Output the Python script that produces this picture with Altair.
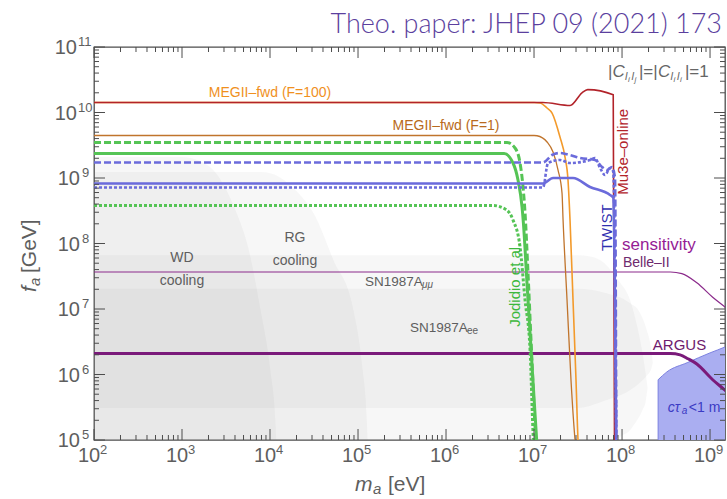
import altair as alt
import numpy as np
import pandas as pd

W, H = 631, 393
X_MIN, X_MAX = 1e2, 10 ** 9.17
Y_MIN, Y_MAX = 1e5, 1e11
FONT = "Liberation Sans"
GRAY_TXT = "#5e5e5e"

# ---------------------------------------------------------------
# Curves, given as log10(m_a / eV) and log10(f_a / GeV)
# ---------------------------------------------------------------
mu3e_lx = [2.0, 7.1, 7.41, 7.545, 7.61, 7.90, 7.915]
mu3e_ly = [10.153, 10.153, 10.107, 10.30, 10.35, 10.27, 4.8]

megii100_lx = [2.0, 7.0, 7.068, 7.148, 7.205, 7.295, 7.352, 7.386, 7.409, 7.443, 7.477, 7.5, 7.51]
megii100_ly = [10.153, 10.153, 10.145, 10.069, 9.992, 9.626, 9.32, 8.97, 8.359, 7.137, 5.916, 5.0, 4.8]

megii1_lx = [2.0, 7.0, 7.034, 7.148, 7.216, 7.273, 7.318, 7.33, 7.375, 7.42, 7.466, 7.48]
megii1_ly = [9.649, 9.649, 9.645, 9.55, 9.397, 9.122, 8.771, 8.359, 7.137, 5.916, 5.0, 4.8]

jod_dash_lx = [2.0, 6.693, 6.784, 6.841, 6.875, 6.898, 6.93, 6.97, 7.02, 7.03]
jod_dash_ly = [9.542, 9.542, 9.458, 9.229, 8.863, 8.466, 7.6, 6.4, 5.0, 4.8]

jod_solid_lx = [2.0, 6.659, 6.761, 6.818, 6.864, 6.88, 6.92, 6.97, 7.03, 7.04]
jod_solid_ly = [9.374, 9.374, 9.229, 8.969, 8.557, 8.3, 7.4, 6.3, 5.0, 4.8]

jod_dot_lx = [2.0, 6.534, 6.68, 6.761, 6.841, 6.898, 6.955, 6.989, 7.0]
jod_dot_ly = [8.58, 8.58, 8.52, 8.36, 7.95, 7.137, 6.374, 5.107, 4.8]

twist_dash_lx = [2.0, 7.102, 7.205, 7.295, 7.409, 7.523, 7.693, 7.773, 7.83, 7.886, 7.92, 7.935]
twist_dash_ly = [9.237, 9.237, 9.351, 9.382, 9.351, 9.305, 9.275, 9.168, 9.122, 9.168, 9.0, 4.8]

twist_dot_lx = [2.0, 7.102, 7.159, 7.295, 7.409, 7.636, 7.693, 7.75, 7.807, 7.864, 7.9, 7.935]
twist_dot_ly = [8.855, 8.855, 9.229, 9.275, 9.229, 9.275, 9.305, 9.153, 9.046, 9.153, 9.1, 4.8]

twist_solid_lx = [2.0, 7.102, 7.216, 7.443, 7.636, 7.864, 7.9, 7.935]
twist_solid_ly = [8.916, 8.916, 9.0, 9.0, 8.863, 8.74, 8.7, 4.8]

belle_lx = [2.0, 8.55, 8.68, 8.85, 9.03, 9.17, 9.3]
belle_ly = [7.565, 7.565, 7.54, 7.40, 7.18, 7.03, 6.88]

argus_lx = [2.0, 8.55, 8.66, 8.75, 8.85, 9.03, 9.17, 9.3]
argus_ly = [6.32, 6.32, 6.30, 6.24, 6.16, 5.92, 5.76, 5.6]

# ---------------------------------------------------------------
# Excluded regions (upper and lower edges)
# ---------------------------------------------------------------
wd_lx = [2.0, 3.0, 3.2, 3.4, 3.51, 3.625, 3.75, 3.886, 4.0, 4.06, 4.1]
wd_top = [9.32, 9.32, 9.26, 9.05, 8.80, 8.45, 7.95, 7.03, 6.1, 5.3, 4.0]

rg_lx = [2.0, 3.9, 4.1, 4.3, 4.5, 4.72, 4.94, 5.05, 5.1, 5.13]
rg_top = [9.09, 9.09, 9.02, 8.8, 8.45, 7.75, 7.03, 6.1, 5.3, 4.0]

snmu_lx = [2.0, 7.5, 7.64, 7.8, 7.95, 8.09, 8.17, 8.23, 8.27, 8.29]
snmu_top = [7.82, 7.82, 7.80, 7.70, 7.45, 7.14, 6.75, 6.35, 6.0, 5.8]
snmu_bot = [4.0, 4.0, 4.0, 4.4, 5.0, 5.15, 5.3, 5.45, 5.6, 5.8]

snee_lx = [2.0, 7.5, 7.8, 8.09, 8.2, 8.28, 8.33, 8.35]
snee_top = [7.31, 7.31, 7.25, 7.09, 6.95, 6.68, 6.4, 6.18]
snee_bot = [5.49, 5.49, 5.6, 5.76, 5.87, 5.98, 6.08, 6.18]

ctau_lx = [8.41, 8.51, 8.74, 9.0, 9.17, 9.3]
ctau_top = [5.92, 6.04, 6.18, 6.33, 6.42, 6.5]

# ---------------------------------------------------------------
# Frame ticks and labels
# ---------------------------------------------------------------
x_exponents = [2, 3, 4, 5, 6, 7, 8, 9]
y_exponents = [5, 6, 7, 8, 9, 10, 11]
minor_mult = [2, 3, 4, 5, 6, 7, 8, 9]

xs = alt.Scale(type="log", domain=[X_MIN, X_MAX], nice=False)
ys = alt.Scale(type="log", domain=[Y_MIN, Y_MAX], nice=False)


def X(field="ma"):
    return alt.X(f"{field}:Q", scale=xs, axis=None)


def Y(field="fa"):
    return alt.Y(f"{field}:Q", scale=ys, axis=None)


def curve(lx, ly, color, width, dash=None, interp="monotone", opacity=1.0):
    df = pd.DataFrame({"ma": 10 ** np.array(lx), "fa": 10 ** np.array(ly)})
    kw = dict(color=color, strokeWidth=width, clip=True, interpolate=interp,
              opacity=opacity)
    if dash:
        kw["strokeDash"] = dash
    return alt.Chart(df).mark_line(**kw).encode(x=X(), y=Y())


def region(lx, top, bot, color, opacity, stroke=None):
    if np.isscalar(bot):
        bot = [bot] * len(lx)
    df = pd.DataFrame({"ma": 10 ** np.array(lx),
                       "top": 10 ** np.array(top),
                       "bot": 10 ** np.array(bot)})
    kw = dict(color=color, opacity=opacity, clip=True, interpolate="monotone")
    if stroke:
        kw.update(stroke=stroke, strokeWidth=1, strokeOpacity=1)
    return alt.Chart(df).mark_area(**kw).encode(x=X(), y=Y("top"), y2="bot:Q")


def note(text, lx, ly, color, size, align="left", baseline="middle", angle=0,
         dx=0, dy=0, style="normal", font=FONT, weight="normal"):
    df = pd.DataFrame({"ma": [10 ** lx], "fa": [10 ** ly], "t": [text]})
    return alt.Chart(df).mark_text(
        align=align, baseline=baseline, angle=angle, dx=dx, dy=dy,
        fontSize=size, color=color, font=font, fontStyle=style,
        fontWeight=weight).encode(x=X(), y=Y(), text="t:N")


def rich(pieces, lx, ly, color, angle=0):
    # pieces: (text, dx, dy, size, style)
    return [note(t, lx, ly, color, s, dx=dx, dy=dy, style=st, angle=angle)
            for t, dx, dy, s, st in pieces]


def pix_text(text, px, py, color, size, align="left", angle=0, style="normal",
             font=FONT, weight="normal", dx=0, dy=0):
    df = pd.DataFrame({"t": [text]})
    return alt.Chart(df).mark_text(
        align=align, baseline="middle", angle=angle, fontSize=size, color=color,
        font=font, fontStyle=style, fontWeight=weight, dx=dx, dy=dy).encode(
        x=alt.value(px), y=alt.value(py), text="t:N")


def frame_ticks(vals, axis, length):
    df = pd.DataFrame({"v": vals})
    tk = dict(color="#4d4d4d", strokeWidth=1)
    if axis == "x":
        return [
            alt.Chart(df).mark_rule(**tk).encode(x=X("v"), y=alt.value(H), y2=alt.value(H - length)),
            alt.Chart(df).mark_rule(**tk).encode(x=X("v"), y=alt.value(0), y2=alt.value(length)),
        ]
    return [
        alt.Chart(df).mark_rule(**tk).encode(y=Y("v"), x=alt.value(0), x2=alt.value(length)),
        alt.Chart(df).mark_rule(**tk).encode(y=Y("v"), x=alt.value(W), x2=alt.value(W - length)),
    ]


layers = []

# excluded regions
REG = "#8c8c8c"
REG_OP = 0.065
layers.append(region(wd_lx, wd_top, 4.0, REG, REG_OP))
layers.append(region(rg_lx, rg_top, 4.0, REG, REG_OP))
layers.append(region(snmu_lx, snmu_top, snmu_bot, REG, REG_OP))
layers.append(region(snee_lx, snee_top, snee_bot, REG, REG_OP))
layers.append(region(ctau_lx, ctau_top, 4.0, "#aaaef1", 1.0, stroke="#7b80e0"))

# collider limits
layers.append(curve(belle_lx, belle_ly, "#8b2a8b", 1.2))
layers.append(curve(argus_lx, argus_ly, "#7a1a7a", 3.0))

# Jodidio et al.
GREEN = "#55c455"
layers.append(curve(jod_dot_lx, jod_dot_ly, GREEN, 3.0, dash=[3, 2]))
layers.append(curve(jod_dash_lx, jod_dash_ly, GREEN, 3.0, dash=[7, 3]))
layers.append(curve(jod_solid_lx, jod_solid_ly, GREEN, 3.0))

# MEGII-fwd
layers.append(curve(megii100_lx, megii100_ly, "#f39a2b", 1.6))
layers.append(curve(megii1_lx, megii1_ly, "#c0742c", 1.3))

# Mu3e-online
layers.append(curve(mu3e_lx, mu3e_ly, "#b2232a", 1.6))

# TWIST
BLUE = "#6b6bdb"
layers.append(curve(twist_dash_lx, twist_dash_ly, BLUE, 2.6, dash=[7, 3]))
layers.append(curve(twist_dot_lx, twist_dot_ly, BLUE, 2.6, dash=[3, 2]))
layers.append(curve(twist_solid_lx, twist_solid_ly, BLUE, 2.6))

# frame ticks
x_major = [10.0 ** e for e in x_exponents]
x_minor = [m * 10.0 ** e for e in x_exponents for m in minor_mult if m * 10.0 ** e <= X_MAX]
y_major = [10.0 ** e for e in y_exponents]
y_minor = [m * 10.0 ** e for e in y_exponents[:-1] for m in minor_mult]
layers += frame_ticks(x_major, "x", 11)
layers += frame_ticks(x_minor, "x", 5)
layers += frame_ticks(y_major, "y", 11)
layers += frame_ticks(y_minor, "y", 5)

# tick labels: base "10" plus raised exponent
xl = pd.DataFrame({"v": x_major, "b": ["10"] * len(x_major), "e": [str(e) for e in x_exponents]})
layers.append(alt.Chart(xl).mark_text(align="center", baseline="middle", dx=-5, fontSize=20,
                                      font=FONT, color=GRAY_TXT).encode(
    x=X("v"), y=alt.value(H + 16), text="b:N"))
layers.append(alt.Chart(xl).mark_text(align="left", baseline="middle", dx=6, fontSize=13,
                                      font=FONT, color=GRAY_TXT).encode(
    x=X("v"), y=alt.value(H + 10), text="e:N"))

yl = pd.DataFrame({"v": y_major, "b": ["10"] * len(y_major), "e": [str(e) for e in y_exponents]})
yl1 = yl[yl["e"].str.len() == 1]
yl2 = yl[yl["e"].str.len() == 2]
for sub, xb, xe in [(yl1, -14, -12), (yl2, -17, -16)]:
    layers.append(alt.Chart(sub).mark_text(align="right", baseline="middle", dy=1, fontSize=20,
                                           font=FONT, color=GRAY_TXT).encode(
        y=Y("v"), x=alt.value(xb), text="b:N"))
    layers.append(alt.Chart(sub).mark_text(align="left", baseline="middle", dy=-5, fontSize=13,
                                           font=FONT, color=GRAY_TXT).encode(
        y=Y("v"), x=alt.value(xe), text="e:N"))

# axis titles
layers.append(pix_text("m", 261, H + 45, GRAY_TXT, 21, style="italic"))
layers.append(pix_text("a", 261, H + 45, GRAY_TXT, 15, style="italic", dx=18, dy=4))
layers.append(pix_text("[eV]", 261, H + 45, GRAY_TXT, 21, dx=33))
layers.append(pix_text("f", -64, 245, GRAY_TXT, 21, angle=270, style="italic"))
layers.append(pix_text("a", -64, 245, GRAY_TXT, 15, angle=270, style="italic", dx=6, dy=5))
layers.append(pix_text("[GeV]", -64, 245, GRAY_TXT, 21, angle=270, dx=19))

# title
layers.append(pix_text("Theo. paper: JHEP 09 (2021) 173", W - 3, -22, "#5b3f9e", 27,
                       align="right", font="Lato", weight=300))

# annotations
layers.append(note("MEGII\u2013fwd (F=100)", 4.0, 10.30, "#f0901e", 14, align="center"))
layers.append(note("MEGII\u2013fwd (F=1)", 6.0, 9.79, "#b86a20", 14, align="center"))
layers.append(note("WD", 3.0, 7.78, GRAY_TXT, 14, align="center"))
layers.append(note("cooling", 3.0, 7.43, GRAY_TXT, 14, align="center"))
layers.append(note("RG", 4.284, 8.08, GRAY_TXT, 14, align="center"))
layers.append(note("cooling", 4.284, 7.73, GRAY_TXT, 14, align="center"))
layers += rich([("SN1987A", 0, 0, 13.5, "normal"), ("\u03bc\u03bc", 57, 3, 10, "italic")],
               5.08, 7.41, GRAY_TXT)
layers += rich([("SN1987A", 0, 0, 13.5, "normal"), ("ee", 57, 3, 10, "normal")],
               5.59, 6.71, GRAY_TXT)
layers.append(note("Jodidio et al.", 6.784, 7.37, "#3cb83c", 15, align="center", angle=270))
layers.append(note("Mu3e\u2013online", 8.01, 9.40, "#b2232a", 15, align="center", angle=270))
layers.append(note("TWIST", 7.83, 8.24, "#3030b0", 15, align="center", angle=270))
layers.append(note("sensitivity", 8.0, 7.977, "#951c95", 17))
layers.append(note("Belle\u2013II", 8.01, 7.70, "#6e2a6e", 14))
layers.append(note("ARGUS", 8.35, 6.45, "#6e1a6e", 15))
layers += rich([("c\u03c4", 0, 0, 14, "italic"), ("a", 14, 3, 10, "italic"),
                ("<1 m", 21, 0, 14, "normal")], 8.52, 5.49, "#3b3bc4")
layers += rich([("|", 0, 0, 17, "normal"), ("C", 4.5, 0, 17, "italic"),
                ("l", 17, 5, 11, "italic"), ("i", 20, 8, 8, "italic"),
                ("l", 23.5, 5, 11, "italic"), ("j", 26.5, 8, 8, "italic"),
                ("|=|", 31, 0, 17, "normal"), ("C", 50, 0, 17, "italic"),
                ("l", 62.5, 5, 11, "italic"), ("i", 65.5, 8, 8, "italic"),
                ("l", 69, 5, 11, "italic"), ("i", 72, 8, 8, "italic"),
                ("|=1", 77, 0, 17, "normal")], 7.84, 10.62, "#666666")

chart = alt.layer(*layers).properties(
    width=W, height=H,
    padding={"left": 94, "top": 47, "right": 2, "bottom": 59},
    autosize=alt.AutoSizeParams(type="none"),
    background="white",
).configure_view(stroke="#4d4d4d", strokeWidth=1.3)

chart.save("out.html", embed_options={"renderer": "svg", "actions": False})
